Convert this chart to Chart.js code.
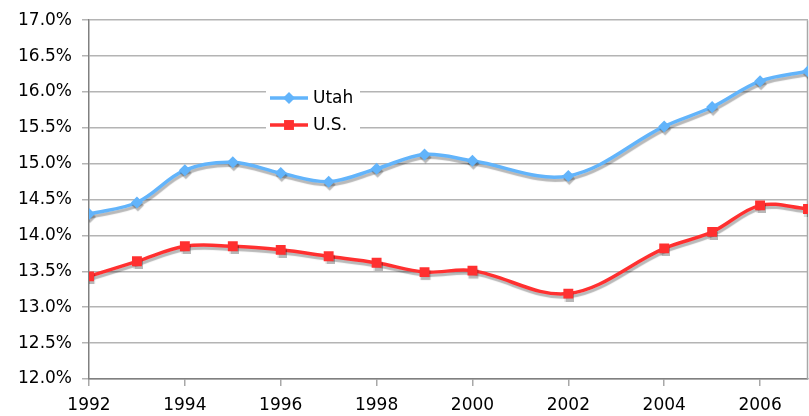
<!DOCTYPE html>
<html>
<head>
<meta charset="utf-8">
<script src="https://cdn.jsdelivr.net/npm/chart.js@4/dist/chart.umd.min.js"></script>
<style>
  html, body { margin: 0; padding: 0; background: #fff; }
  #wrap { width: 809px; height: 416px; }
</style>
</head>
<body>
<div id="wrap"><canvas id="rateChart" width="809" height="416"></canvas></div>
<script>
// years with data (no 2001 / 2003 points)
const years = [1992, 1993, 1994, 1995, 1996, 1997, 1998, 1999, 2000, 2002, 2004, 2005, 2006, 2007];
const utahRates = [14.30, 14.46, 14.91, 15.02, 14.87, 14.75, 14.93, 15.13, 15.04, 14.83, 15.52, 15.79, 16.15, 16.29];
const usRates = [13.43, 13.64, 13.85, 13.85, 13.80, 13.71, 13.62, 13.49, 13.51, 13.19, 13.82, 14.05, 14.42, 14.37];
const seriesNames = ["Utah", "U.S."];

const FONT = "'DejaVu Sans', Verdana, sans-serif";
const utahColor = "#62b4fb";
const usColor = "#ff3030";

const toPoints = (vals) => years.map((yr, i) => ({ x: yr, y: vals[i] }));

// drop shadow under each series, like the spreadsheet style
const shadowPlugin = {
  id: "shadow",
  beforeDatasetDraw(chart) {
    const ctx = chart.ctx;
    ctx.save();
    ctx.shadowColor = "rgba(0,0,0,0.28)";
    ctx.shadowOffsetX = 1;
    ctx.shadowOffsetY = 3;
    ctx.shadowBlur = 1;
  },
  afterDatasetDraw(chart) {
    chart.ctx.restore();
  },
};

// frame on the right + legend box inside the plot
const framePlugin = {
  id: "frame",
  beforeDatasetsDraw(chart) {
    const { ctx, chartArea } = chart;
    ctx.save();
    ctx.strokeStyle = "#a8a8a8";
    ctx.lineWidth = 1.5;
    ctx.beginPath();
    ctx.moveTo(chartArea.right - 0.5, chartArea.top);
    ctx.lineTo(chartArea.right - 0.5, chartArea.bottom);
    ctx.stroke();
    ctx.restore();
  },
  afterDatasetsDraw(chart) {
    const ctx = chart.ctx;
    const ds = chart.data.datasets;
    ctx.save();
    ctx.fillStyle = "#fff";
    ctx.fillRect(266, 82, 94, 52);
    ctx.font = "17px " + FONT;
    ctx.textBaseline = "middle";
    [98, 125].forEach((y, i) => {
      const d = ds[i];
      ctx.strokeStyle = d.borderColor;
      ctx.lineWidth = 3.5;
      ctx.beginPath();
      ctx.moveTo(270, y);
      ctx.lineTo(308, y);
      ctx.stroke();
      ctx.fillStyle = d.borderColor;
      Chart.helpers.drawPoint(ctx, { pointStyle: d.pointStyle, radius: d.pointRadius, borderWidth: 0 }, 289, y);
      ctx.fillStyle = "#000";
      ctx.fillText(seriesNames[i], 313, y + 1);
    });
    ctx.restore();
  },
};

const ctx = document.getElementById("rateChart").getContext("2d");
new Chart(ctx, {
  type: "line",
  data: {
    datasets: [
      {
        label: seriesNames[0],
        data: toPoints(utahRates),
        borderColor: utahColor,
        backgroundColor: utahColor,
        borderWidth: 3.5,
        pointStyle: "rectRot",
        pointRadius: 6,
        pointBorderWidth: 0,
        tension: 0.35,
      },
      {
        label: seriesNames[1],
        data: toPoints(usRates),
        borderColor: usColor,
        backgroundColor: usColor,
        borderWidth: 3.5,
        pointStyle: "rect",
        pointRadius: 7,
        pointBorderWidth: 0,
        tension: 0.35,
      },
    ],
  },
  options: {
    responsive: false,
    animation: false,
    layout: { autoPadding: false, padding: { top: 18, right: 1, left: 0, bottom: 0 } },
    plugins: {
      legend: { display: false },
      tooltip: { enabled: false },
    },
    scales: {
      x: {
        type: "linear",
        min: 1992,
        max: 2007,
        ticks: {
          stepSize: 2,
          includeBounds: false,
          color: "#000",
          font: { family: FONT, size: 17 },
          padding: 9,
          maxRotation: 0,
          callback: (v) => String(v),
        },
        grid: { drawOnChartArea: false, tickLength: 7, color: "#a8a8a8", lineWidth: 1.5 },
        border: { color: "#808080", width: 1.5 },
        afterFit: (scale) => {
          scale.height = 37;
          scale.paddingRight = 0;
        },
      },
      y: {
        min: 12,
        max: 17,
        ticks: {
          stepSize: 0.5,
          color: "#000",
          font: { family: FONT, size: 17 },
          padding: 10,
          callback: (v) => v.toFixed(1) + "%",
        },
        grid: { color: "#b4b4b4", lineWidth: 1.5, tickLength: 7 },
        border: { color: "#808080", width: 1.5 },
        afterFit: (scale) => { scale.width = 89; },
      },
    },
  },
  plugins: [shadowPlugin, framePlugin],
});
</script>
</body>
</html>
